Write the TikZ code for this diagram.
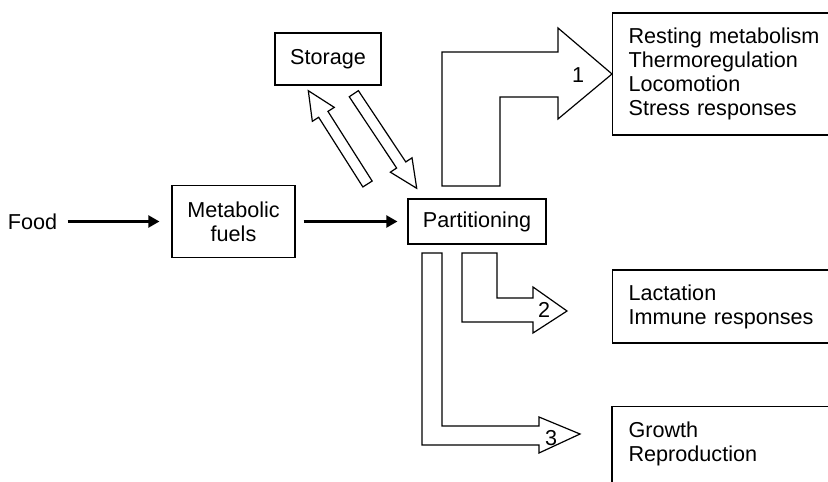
\documentclass[tikz,border=0pt]{standalone}
\usepackage{fontspec}
\setmainfont{Liberation Sans}
\usetikzlibrary{arrows.meta,calc}

% hollow block arrow from #1 (tail) to #2 (tip)
\newcommand{\hollowarrow}[2]{%
  \coordinate (hb) at ($(#2)!14pt!(#1)$);
  \draw[fatarrow] ($(#1)!2.75pt!90:(#2)$) -- ($(hb)!2.75pt!90:(#2)$)
    -- ($(hb)!6.5pt!90:(#2)$) -- (#2) -- ($(hb)!6.5pt!-90:(#2)$)
    -- ($(hb)!2.75pt!-90:(#2)$) -- ($(#1)!2.75pt!-90:(#2)$) -- cycle;}

\begin{document}
\begin{tikzpicture}[x=0.5pt,y=-0.5pt,
    every node/.style={font=\fontsize{10.8}{12}\selectfont},
    box/.style={draw,line width=0.6pt,inner sep=0pt,align=center},
    listbox/.style={draw,line width=0.6pt,anchor=west,align=left,text width=98pt,inner xsep=8pt,inner ysep=0pt},
    feed/.style={line width=1.1pt,-{Triangle[length=5.5pt,width=6pt]}},
    fatarrow/.style={line width=0.6pt,line join=miter}]
    \useasboundingbox (0,0) rectangle (828,481);
    \clip (0,0) rectangle (828,481);

    \node[inner xsep=5pt] (food) at (32.5,221.5) {Food};
    \node[box,minimum width=61.5pt,minimum height=36pt] (fuels) at (233.5,221.5) {Metabolic\\fuels};
    \node[box,minimum width=69pt,minimum height=22.5pt] (part) at (477,221.5) {Partitioning};
    \node[box,minimum width=53pt,minimum height=26pt] (store) at (328,59) {Storage};

    \node[listbox,minimum height=61pt] (rest) at (612,74) {Resting metabolism\\Thermoregulation\\Locomotion\\Stress responses};
    \node[listbox,minimum height=36.5pt] (lact) at (612,306.5) {Lactation\\Immune responses};
    \node[listbox,minimum height=36.5pt,draw=none] (grow) at (612,443.5) {Growth\\Reproduction};
    \draw[line width=0.6pt] ([yshift=-20pt]grow.south west) |- (grow.north east);

    \draw[feed,shorten >=6pt] (food) -- (fuels);
    \draw[feed,shorten <=4pt,shorten >=5pt] (fuels) -- (part);

    % to and from storage
    \coordinate (upTail) at (367.5,184);
    \coordinate (upTip) at (308.3,90.7);
    \coordinate (downTail) at (353.8,93.7);
    \coordinate (downTip) at (416.7,188.3);
    \hollowarrow{upTail}{upTip}
    \hollowarrow{downTail}{downTip}

    % the three routes
    \draw[fatarrow] (442,186) -- (442,52) -- (558,52) -- (558,28) -- (rest.west)
        -- (558,119) -- (558,97) -- (500,97) -- (500,186) -- cycle;
    \node (one) at (578,75) {1};
    \draw[fatarrow] (462,253) -- (497,253) -- (497,298) -- (533,298) -- (533,287) -- (567,311)
        -- (533,333) -- (533,322) -- (462,322) -- cycle;
    \node (two) at (544,310) {2};
    \draw[fatarrow] (422,253) -- (442,253) -- (442,426) -- (539,426) -- (539,417) -- (580,434)
        -- (539,453) -- (539,445) -- (422,445) -- cycle;
    \node (three) at (551,438) {3};
\end{tikzpicture}
\end{document}
